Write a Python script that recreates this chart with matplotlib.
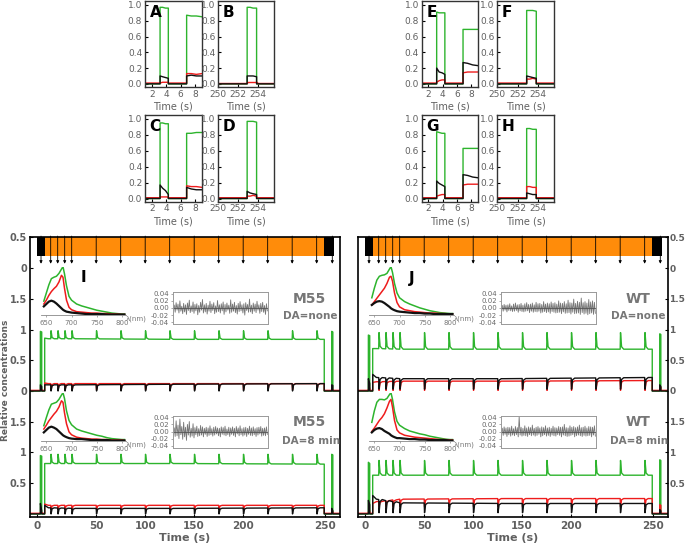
import numpy as np
import matplotlib.pyplot as plt

W, H = 685, 545

GREEN = "#2db42d"
RED = "#ee1c1c"
BLACK = "#111111"
GRAY = "#606060"
ORANGE = "#ff8c0a"

# ---- small panels A-H ----
EARLY_T = [1.0, 3.15, 3.15, 3.5, 3.9, 4.3, 4.3, 6.85, 6.85, 7.5, 8.2, 9.0]
LATE_T = [250.0, 252.9, 252.9, 253.2, 253.5, 253.85, 253.85, 256.0]

A_G = [0, 0, 0.97, 0.97, 0.96, 0.96, 0, 0, 0.87, 0.86, 0.86, 0.85]
A_R = [0.01, 0.01, 0.01, 0.02, 0.02, 0.02, 0.01, 0.01, 0.13, 0.13, 0.12, 0.13]
A_K = [0, 0, 0.10, 0.09, 0.08, 0.07, 0, 0, 0.10, 0.11, 0.10, 0.10]
C_G = [0, 0, 0.95, 0.95, 0.94, 0.94, 0, 0, 0.82, 0.82, 0.83, 0.83]
C_R = [0.01, 0.01, 0.02, 0.02, 0.02, 0.02, 0.01, 0.01, 0.16, 0.15, 0.15, 0.14]
C_K = [0, 0, 0.17, 0.13, 0.10, 0.05, 0, 0, 0.14, 0.12, 0.11, 0.11]
E_G = [0, 0, 0.91, 0.90, 0.90, 0.90, 0, 0, 0.69, 0.69, 0.69, 0.69]
E_R = [0.01, 0.01, 0.02, 0.04, 0.05, 0.05, 0.01, 0.01, 0.14, 0.15, 0.15, 0.15]
E_K = [0, 0, 0.20, 0.15, 0.14, 0.12, 0, 0, 0.27, 0.26, 0.24, 0.23]
G_G = [0, 0, 0.84, 0.83, 0.82, 0.82, 0, 0, 0.63, 0.63, 0.63, 0.63]
G_R = [0.01, 0.01, 0.03, 0.04, 0.05, 0.05, 0.01, 0.01, 0.17, 0.18, 0.18, 0.18]
G_K = [0, 0, 0.22, 0.19, 0.17, 0.15, 0, 0, 0.30, 0.29, 0.27, 0.26]

B_G = [0, 0, 0.97, 0.97, 0.96, 0.96, 0, 0]
B_R = [0.01, 0.01, 0.02, 0.02, 0.02, 0.02, 0.01, 0.01]
B_K = [0, 0, 0.10, 0.10, 0.10, 0.09, 0, 0]
D_G = [0, 0, 0.97, 0.97, 0.97, 0.96, 0, 0]
D_R = [0.01, 0.01, 0.03, 0.03, 0.04, 0.03, 0.01, 0.01]
D_K = [0, 0, 0.09, 0.07, 0.06, 0.05, 0, 0]
F_G = [0, 0, 0.93, 0.93, 0.93, 0.92, 0, 0]
F_R = [0.01, 0.01, 0.06, 0.06, 0.07, 0.06, 0.01, 0.01]
F_K = [0, 0, 0.10, 0.09, 0.08, 0.07, 0, 0]
H_G = [0, 0, 0.88, 0.88, 0.87, 0.87, 0, 0]
H_R = [0.01, 0.01, 0.15, 0.15, 0.14, 0.14, 0.01, 0.01]
H_K = [0, 0, 0.07, 0.06, 0.05, 0.05, 0, 0]

SMALL_YTICKS = [0.0, 0.2, 0.4, 0.6, 0.8, 1.0]
EARLY_XTICKS = [2, 4, 6, 8]
LATE_XTICKS = [250, 252, 254]

# ---- big traces I, J ----
MAIN_T = [-6, 3.15, 3.15, 4.3, 4.3, 6.85, 6.85, 10, 30, 120, 246.5, 246.5,
          252.9, 252.9, 253.85, 253.85, 260]
FLASH_T = [12, 18, 24, 30, 51, 72, 93, 114, 135, 156, 177, 198, 219, 240]
ARROW_T = [3.7] + FLASH_T + [253.4]
BLACK_BAND = [(0, 7), (246, 9)]
ORANGE_BAND = [(7, 239)]

M55_NONE_G = [0, 0, 0.97, 0.96, 0, 0, 0.86, 0.85, 0.85, 0.84, 0.84, 0, 0, 0.97, 0.96, 0, 0]
M55_NONE_R = [0.01, 0.01, 0.01, 0.02, 0.01, 0.01, 0.13, 0.12, 0.12, 0.12, 0.12, 0.01, 0.01, 0.02, 0.02, 0.01, 0.01]
M55_NONE_K = [0, 0, 0.10, 0.07, 0, 0, 0.10, 0.10, 0.10, 0.11, 0.12, 0, 0, 0.10, 0.09, 0, 0]
M55_8_G = [0, 0, 0.95, 0.94, 0, 0, 0.82, 0.82, 0.82, 0.82, 0.81, 0, 0, 0.97, 0.96, 0, 0]
M55_8_R = [0.01, 0.01, 0.02, 0.02, 0.01, 0.01, 0.16, 0.14, 0.14, 0.14, 0.14, 0.01, 0.01, 0.03, 0.03, 0.01, 0.01]
M55_8_K = [0, 0, 0.17, 0.05, 0, 0, 0.14, 0.10, 0.09, 0.09, 0.10, 0, 0, 0.09, 0.05, 0, 0]
WT_NONE_G = [0, 0, 0.91, 0.90, 0, 0, 0.69, 0.69, 0.68, 0.68, 0.68, 0, 0, 0.93, 0.92, 0, 0]
WT_NONE_R = [0.01, 0.01, 0.02, 0.05, 0.01, 0.01, 0.14, 0.15, 0.16, 0.16, 0.17, 0.01, 0.01, 0.06, 0.06, 0.01, 0.01]
WT_NONE_K = [0, 0, 0.20, 0.12, 0, 0, 0.27, 0.22, 0.20, 0.20, 0.22, 0, 0, 0.10, 0.07, 0, 0]
WT_8_G = [0, 0, 0.84, 0.82, 0, 0, 0.63, 0.63, 0.63, 0.63, 0.63, 0, 0, 0.88, 0.87, 0, 0]
WT_8_R = [0.01, 0.01, 0.03, 0.05, 0.01, 0.01, 0.17, 0.20, 0.24, 0.25, 0.25, 0.01, 0.01, 0.15, 0.14, 0.01, 0.01]
WT_8_K = [0, 0, 0.22, 0.15, 0, 0, 0.30, 0.24, 0.18, 0.17, 0.17, 0, 0, 0.07, 0.05, 0, 0]

# flash response level (green peak, red dip, black dip)
M55_NONE_FL = (0.98, 0.02, 0.0)
M55_8_FL = (0.97, 0.07, 0.0)
WT_NONE_FL = (0.95, 0.01, 0.03)
WT_8_FL = (0.87, 0.12, 0.02)

BIG_XTICKS = [0, 51, 93, 135, 177, 247]
BIG_XLABELS = ["0", "50", "100", "150", "200", "250"]
BIG_YTICKS = [0.5, 1, 1.5, 2, 2.5, 3, 3.5, 4, 4.5]
BIG_YLABELS = ["0.5", "1", "1.5", "0", "0.5", "1", "1.5", "0", "0.5"]

# ---- spectra ----
SPEC_NM = [645, 650, 655, 660, 665, 670, 675, 680, 683, 686, 690, 695, 700,
           710, 720, 730, 740, 750, 760, 770, 780, 790, 800, 805]
M55_NONE_SG = [0.28, 0.45, 0.62, 0.75, 0.78, 0.80, 0.86, 0.95, 1.0, 0.85, 0.60, 0.38, 0.30,
               0.22, 0.18, 0.15, 0.12, 0.09, 0.07, 0.05, 0.03, 0.02, 0.01, 0.01]
M55_NONE_SR = [0.22, 0.30, 0.40, 0.48, 0.54, 0.59, 0.68, 0.82, 0.78, 0.55, 0.30, 0.15, 0.10,
               0.06, 0.05, 0.04, 0.03, 0.03, 0.02, 0.02, 0.01, 0.01, 0.0, 0.0]
M55_NONE_SK = [0.17, 0.22, 0.27, 0.29, 0.27, 0.23, 0.18, 0.13, 0.10, 0.08, 0.06, 0.05, 0.04,
               0.03, 0.02, 0.01, 0.01, 0.01, 0.01, 0.0, 0.0, 0.0, 0.0, 0.0]
M55_8_SG = [0.31, 0.48, 0.64, 0.76, 0.78, 0.80, 0.86, 0.95, 1.0, 0.88, 0.62, 0.42, 0.33,
            0.24, 0.20, 0.17, 0.14, 0.11, 0.09, 0.06, 0.04, 0.03, 0.02, 0.02]
M55_8_SR = [0.24, 0.32, 0.41, 0.48, 0.55, 0.61, 0.70, 0.83, 0.80, 0.58, 0.35, 0.18, 0.12,
            0.07, 0.05, 0.04, 0.03, 0.03, 0.02, 0.02, 0.01, 0.01, 0.01, 0.0]
M55_8_SK = [0.17, 0.22, 0.27, 0.29, 0.27, 0.24, 0.19, 0.14, 0.11, 0.09, 0.07, 0.05, 0.04,
            0.03, 0.03, 0.02, 0.01, 0.01, 0.01, 0.01, 0.0, 0.0, 0.0, 0.0]
WT_NONE_SG = [0.35, 0.55, 0.72, 0.80, 0.82, 0.83, 0.86, 0.95, 1.0, 0.88, 0.65, 0.45, 0.35,
              0.27, 0.22, 0.18, 0.14, 0.11, 0.08, 0.06, 0.04, 0.03, 0.02, 0.02]
WT_NONE_SR = [0.20, 0.27, 0.34, 0.41, 0.48, 0.55, 0.65, 0.78, 0.80, 0.70, 0.45, 0.25, 0.16,
              0.10, 0.08, 0.06, 0.05, 0.04, 0.03, 0.03, 0.02, 0.02, 0.01, 0.01]
WT_NONE_SK = [0.20, 0.24, 0.27, 0.28, 0.27, 0.24, 0.20, 0.16, 0.13, 0.11, 0.09, 0.07, 0.06,
              0.05, 0.04, 0.03, 0.03, 0.02, 0.02, 0.01, 0.01, 0.01, 0.01, 0.01]
WT_8_SG = [0.38, 0.62, 0.80, 0.86, 0.86, 0.85, 0.88, 0.96, 1.0, 0.86, 0.60, 0.40, 0.32,
           0.25, 0.20, 0.17, 0.14, 0.12, 0.09, 0.07, 0.05, 0.03, 0.02, 0.02]
WT_8_SR = [0.19, 0.26, 0.34, 0.42, 0.48, 0.56, 0.68, 0.82, 0.86, 0.70, 0.42, 0.22, 0.16,
           0.11, 0.09, 0.07, 0.06, 0.05, 0.04, 0.03, 0.02, 0.02, 0.01, 0.01]
WT_8_SK = [0.17, 0.22, 0.25, 0.26, 0.24, 0.20, 0.17, 0.14, 0.11, 0.09, 0.07, 0.05, 0.05,
           0.04, 0.03, 0.03, 0.02, 0.02, 0.01, 0.01, 0.01, 0.01, 0.0, 0.0]
SPEC_XTICKS = [650, 700, 750, 800]

# ---- fit residuals (x 0.001) ----
RES_M55_NONE = [8, -12, 15, -6, 11, -14, 20, -9, 5, -16, 13, -11, 9, -18, 14, -7, 22, -13, 6, -10,
                17, -15, 10, -8, 12, -19, 7, -12, 16, -6, 24, -14, 9, -11, 13, -17, 8, -9, 19, -13,
                11, -7, 15, -16, 6, -12, 21, -10, 9, -14, 12, -8, 17, -18, 10, -11, 14, -6, 8, -15,
                23, -12, 11, -9, 16, -13, 7, -17, 13, -10, 18, -8, 9, -14, 12, -20, 15, -7, 10, -12,
                25, -11, 8, -16, 14, -9, 11, -13, 19, -6, 9, -15, 13, -10, 16, -12, 7, -18, 12, -8]
RES_M55_8 = [10, -14, 30, -12, 18, -20, 35, -9, 14, -22, 26, -15, 12, -25, 20, -10, 28, -16, 9, -13,
             22, -18, 11, -9, 15, -14, 8, -12, 17, -10, 13, -15, 9, -8, 12, -14, 10, -11, 16, -9,
             8, -13, 12, -10, 14, -7, 10, -12, 9, -15, 13, -8, 11, -10, 15, -12, 7, -9, 12, -14,
             10, -8, 13, -11, 9, -15, 14, -7, 10, -12, 16, -9, 8, -13, 11, -10, 12, -14, 9, -8,
             15, -11, 10, -12, 13, -9, 8, -14, 11, -10, 12, -7, 14, -13, 9, -11, 10, -12, 13, -8]
RES_WT_NONE = [7, -9, 10, -6, 8, -11, 9, -7, 12, -8, 6, -10, 11, -9, 14, -7, 9, -12, 10, -8,
               13, -10, 8, -11, 12, -9, 15, -8, 10, -13, 11, -9, 14, -12, 9, -10, 16, -11, 12, -9,
               13, -14, 10, -12, 18, -10, 11, -13, 14, -11, 12, -15, 17, -10, 13, -12, 15, -14, 11, -13,
               20, -12, 14, -16, 13, -11, 18, -15, 12, -14, 22, -13, 15, -17, 14, -12, 25, -16, 13, -15,
               19, -14, 16, -18, 28, -13, 15, -17, 18, -15, 14, -19, 24, -16, 17, -14, 20, -18, 16, -15]
RES_WT_8 = [9, -11, 13, -8, 10, -14, 12, -9, 11, -13, 15, -10, 8, -12, 14, -9, 11, -15, 42, -10,
            12, -13, 9, -11, 16, -12, 10, -14, 13, -9, 11, -12, 18, -10, 9, -13, 12, -11, 14, -8,
            10, -15, 13, -12, 11, -9, 16, -13, 10, -11, 12, -14, 9, -10, 15, -12, 11, -13, 10, -9,
            14, -11, 12, -15, 13, -10, 20, -12, 11, -14, 10, -13, 16, -11, 12, -9, 14, -15, 11, -12,
            13, -10, 18, -12, 11, -14, 12, -11, 15, -13, 10, -12, 14, -11, 13, -15, 12, -10, 16, -13]
RES_TICKS = [0.04, 0.02, 0.0, -0.02, -0.04]

fig = plt.figure(figsize=(W / 100, H / 100), dpi=100)


def px_axes(x0, y0, x1, y1):
    return fig.add_axes([x0 / W, 1 - y1 / H, (x1 - x0) / W, (y1 - y0) / H])


def px_text(x, y, s, **kw):
    fig.text(x / W, 1 - y / H, s, ha="center", va="center", **kw)


def small_panel(box, label, t, g, r, k, xlim, xticks):
    ax = px_axes(*box)
    ax.plot(t, g, color=GREEN, lw=1.0)
    ax.plot(t, r, color=RED, lw=1.0)
    ax.plot(t, k, color=BLACK, lw=1.0)
    ax.set_xlim(*xlim)
    ax.set_ylim(-0.04, 1.05)
    ax.set_yticks(SMALL_YTICKS)
    ax.set_yticklabels([f"{v:.1f}" for v in SMALL_YTICKS])
    ax.set_xticks(xticks)
    ax.tick_params(labelsize=6.5, labelcolor=GRAY, length=2, direction="in", pad=2)
    ax.set_xlabel("Time (s)", fontsize=7, color=GRAY, labelpad=2)
    for s in ax.spines.values():
        s.set_color("#333333")
        s.set_linewidth(1.0)
    ax.text(0.08, 0.95, label, transform=ax.transAxes, fontsize=11,
            fontweight="bold", va="top", ha="left")


small_panel((145, 1, 201.7, 87), "A", EARLY_T, A_G, A_R, A_K, (1.05, 8.95), EARLY_XTICKS)
small_panel((218.3, 1, 274, 87), "B", LATE_T, B_G, B_R, B_K, (250.1, 255.6), LATE_XTICKS)
small_panel((145, 115, 201.7, 201.7), "C", EARLY_T, C_G, C_R, C_K, (1.05, 8.95), EARLY_XTICKS)
small_panel((218.3, 115, 274, 201.7), "D", LATE_T, D_G, D_R, D_K, (250.1, 255.6), LATE_XTICKS)
small_panel((421.7, 1, 478, 87), "E", EARLY_T, E_G, E_R, E_K, (1.05, 8.95), EARLY_XTICKS)
small_panel((497.3, 1, 554, 87), "F", LATE_T, F_G, F_R, F_K, (250.1, 255.6), LATE_XTICKS)
small_panel((421.7, 115, 478, 201.7), "G", EARLY_T, G_G, G_R, G_K, (1.05, 8.95), EARLY_XTICKS)
small_panel((497.3, 115, 554, 201.7), "H", LATE_T, H_G, H_R, H_K, (250.1, 255.6), LATE_XTICKS)


def build_trace(values, level):
    pts = list(zip(MAIN_T, values))
    for f in FLASH_T:
        base = np.interp(f, MAIN_T, values)
        pts += [(f, base), (f + 0.3, level), (f + 1.2, base + (level - base) * 0.15), (f + 3.0, base)]
    pts.sort(key=lambda p: p[0])
    t, v = zip(*pts)
    return np.array(t), np.array(v)


def spectrum(x0, y0, g, r, k):
    ax = px_axes(x0, y0, x0 + 84.7, y0 + 48.3)
    ax.plot(SPEC_NM, g, color=GREEN, lw=1.1)
    ax.plot(SPEC_NM, r, color=RED, lw=1.1)
    ax.plot(SPEC_NM, k, color=BLACK, lw=1.6)
    ax.set_xlim(640, 808)
    ax.set_ylim(-0.01, 1.0)
    ax.patch.set_alpha(0)
    for side in ("top", "left", "right"):
        ax.spines[side].set_visible(False)
    ax.spines["bottom"].set_color("#888888")
    ax.spines["bottom"].set_linewidth(0.6)
    ax.set_yticks([])
    ax.set_xticks(SPEC_XTICKS)
    ax.tick_params(axis="x", labelsize=5, labelcolor="#777777", length=1.5, pad=2,
                   color="#888888", width=0.5)


def residual(x0, y0, res):
    ax = px_axes(x0, y0, x0 + 95, y0 + 32)
    ax.plot(np.arange(len(res)), np.array(res) * 0.001, color="#777777", lw=0.6)
    ax.axhline(0, color="#555555", lw=0.6)
    ax.set_xlim(-1, len(res))
    ax.set_ylim(-0.045, 0.045)
    ax.set_xticks([])
    ax.set_yticks(RES_TICKS)
    ax.set_yticklabels([f"{v:.2f}" for v in RES_TICKS])
    ax.tick_params(axis="y", labelsize=5, labelcolor="#666666", length=1.5, pad=1.5,
                   width=0.5, color="#888888")
    for s in ax.spines.values():
        s.set_color("#999999")
        s.set_linewidth(0.7)


def big_panel(L, label, name, up, low, up_fl, low_fl, specs, resids, right):
    ax = px_axes(L, 236.7, L + 310.3, 517)
    for vals, fl, off in ((up, up_fl, 2.0), (low, low_fl, 0.0)):
        for v, lev, col in zip(vals, fl, (GREEN, RED, BLACK)):
            t, y = build_trace(v, lev)
            ax.plot(t, y + off, color=col, lw=1.0)
    ax.broken_barh(ORANGE_BAND, (4.2, 0.32), facecolor=ORANGE)
    ax.broken_barh(BLACK_BAND, (4.2, 0.32), facecolor="black")
    for a in ARROW_T:
        ax.annotate("", xy=(a, 4.07), xytext=(a, 4.52),
                    arrowprops=dict(arrowstyle="-|>", lw=0.6, color="black",
                                    mutation_scale=4, shrinkA=0, shrinkB=0))
    ax.set_xlim(-6, 260)
    ax.set_ylim(-0.05, 4.51)
    ax.set_xticks(BIG_XTICKS)
    ax.set_xticklabels(BIG_XLABELS)
    ax.set_yticks(BIG_YTICKS)
    ax.set_yticklabels(BIG_YLABELS)
    if right:
        ax.yaxis.tick_right()
    ax.tick_params(axis="x", labelsize=7.5, labelcolor=GRAY, length=2.5, direction="in", pad=3)
    ax.tick_params(axis="y", labelsize=6.5 if right else 7, labelcolor=GRAY, length=2.5,
                   direction="in", pad=1 if right else 2)
    for tl in ax.get_xticklabels() + ax.get_yticklabels():
        tl.set_fontweight("bold")
    for s in ax.spines.values():
        s.set_linewidth(1.2)
    ax.set_xlabel("Time (s)", fontsize=8, color=GRAY, fontweight="bold", labelpad=1)

    spectrum(L + 11.6, 266.7, *specs[0])
    spectrum(L + 11.6, 392.7, *specs[1])
    residual(L + 143.6, 292, resids[0])
    residual(L + 143.6, 415.5, resids[1])
    px_text(L + 107, 319, "λ(nm)", fontsize=5, color="#777777")
    px_text(L + 107, 444.5, "λ(nm)", fontsize=5, color="#777777")
    px_text(L + 54, 278, label, fontsize=11, fontweight="bold")
    px_text(L + 280, 299, name, fontsize=10, color="#777777", fontweight="bold")
    px_text(L + 281, 316, "DA=none", fontsize=7.5, color="#777777", fontweight="bold")
    px_text(L + 280, 422, name, fontsize=10, color="#777777", fontweight="bold")
    px_text(L + 281, 441.5, "DA=8 min", fontsize=7.5, color="#777777", fontweight="bold")


big_panel(29.7, "I", "M55",
          (M55_NONE_G, M55_NONE_R, M55_NONE_K), (M55_8_G, M55_8_R, M55_8_K),
          M55_NONE_FL, M55_8_FL,
          ((M55_NONE_SG, M55_NONE_SR, M55_NONE_SK), (M55_8_SG, M55_8_SR, M55_8_SK)),
          (RES_M55_NONE, RES_M55_8), False)
big_panel(357.7, "J", "WT",
          (WT_NONE_G, WT_NONE_R, WT_NONE_K), (WT_8_G, WT_8_R, WT_8_K),
          WT_NONE_FL, WT_8_FL,
          ((WT_NONE_SG, WT_NONE_SR, WT_NONE_SK), (WT_8_SG, WT_8_SR, WT_8_SK)),
          (RES_WT_NONE, RES_WT_8), True)

px_text(5.5, 380, "Relative concentrations", fontsize=6.5, color=GRAY,
        fontweight="bold", rotation=90)

fig.savefig("out.png", dpi=100)
